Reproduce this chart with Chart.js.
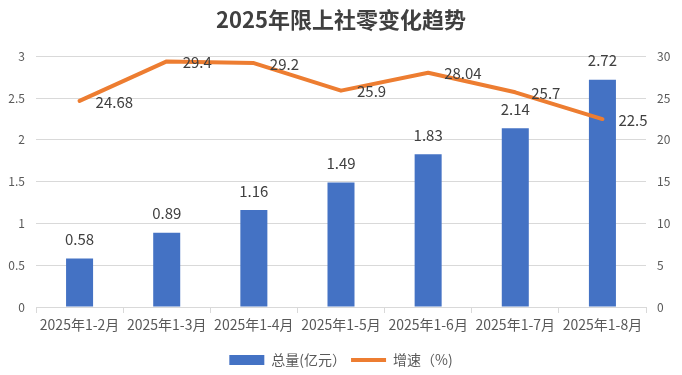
<!DOCTYPE html>
<html>
<head>
<meta charset="utf-8">
<script src="https://cdn.jsdelivr.net/npm/chart.js@4/dist/chart.umd.min.js"></script>
<style>
  html, body { margin: 0; padding: 0; background: #fff; }
  #wrap { width: 682px; height: 375px; position: relative; }
</style>
</head>
<body>
<div id="wrap"><canvas id="trendChart"></canvas></div>
<script>
// data
const months = ['2025年1-2月', '2025年1-3月', '2025年1-4月', '2025年1-5月', '2025年1-6月', '2025年1-7月', '2025年1-8月'];
const totalValues = [0.58, 0.89, 1.16, 1.49, 1.83, 2.14, 2.72];
const growthValues = [24.68, 29.4, 29.2, 25.9, 28.04, 25.7, 22.5];
const leftTicks = [0, 0.5, 1, 1.5, 2, 2.5, 3];
const rightTicks = [0, 5, 10, 15, 20, 25, 30];

const FONT = '"Noto Sans CJK SC", "Noto Sans", sans-serif';
const BLUE = '#4472C4';
const ORANGE = '#ED7D31';

// value labels: above the bars, to the right of the line points
const valueLabels = {
    id: 'valueLabels',
    afterDatasetsDraw(chart) {
        const ctx = chart.ctx;
        ctx.save();
        ctx.font = '15px ' + FONT;
        ctx.fillStyle = '#404040';
        ctx.textBaseline = 'middle';

        const bars = chart.getDatasetMeta(0).data;
        ctx.textAlign = 'center';
        bars.forEach((bar, i) => {
            ctx.fillText(String(totalValues[i]), bar.x, bar.y - 19);
        });

        const points = chart.getDatasetMeta(1).data;
        ctx.textAlign = 'left';
        points.forEach((pt, i) => {
            ctx.fillText(String(growthValues[i]), pt.x + 16, pt.y + 1);
        });
        ctx.restore();
    }
};

const ctx = document.getElementById('trendChart').getContext('2d');

new Chart(ctx, {
    data: {
        labels: months,
        datasets: [
            {
                type: 'bar',
                label: '总量(亿元）',
                data: totalValues,
                backgroundColor: BLUE,
                yAxisID: 'y',
                barPercentage: 1,
                categoryPercentage: 0.31,
                order: 1
            },
            {
                type: 'line',
                label: '增速（%)',
                data: growthValues,
                borderColor: ORANGE,
                backgroundColor: ORANGE,
                borderWidth: 4,
                borderCapStyle: 'round',
                borderJoinStyle: 'round',
                pointRadius: 0,
                pointHoverRadius: 0,
                tension: 0,
                yAxisID: 'y1',
                order: 0
            }
        ]
    },
    options: {
        responsive: true,
        maintainAspectRatio: false,
        animation: false,
        layout: { padding: { top: 0, right: 0, bottom: -2, left: 0 } },
        scales: {
            x: {
                afterFit: axis => { axis.height = 41; },
                grid: {
                    display: true,
                    drawOnChartArea: false,
                    drawTicks: true,
                    tickLength: 6,
                    offset: true,
                    color: '#d9d9d9'
                },
                border: { display: true, color: '#d9d9d9' },
                ticks: {
                    color: '#595959',
                    font: { family: FONT, size: 14 },
                    padding: 3,
                    maxRotation: 0,
                    autoSkip: false
                }
            },
            y: {
                position: 'left',
                min: 0,
                max: 3,
                afterBuildTicks: axis => { axis.ticks = leftTicks.map(v => ({ value: v })); },
                afterFit: axis => { axis.width = 36; },
                grid: { color: '#d9d9d9', drawTicks: false },
                border: { display: false },
                ticks: {
                    color: '#595959',
                    font: { family: FONT, size: 12 },
                    padding: 11,
                    callback: v => String(v)
                }
            },
            y1: {
                position: 'right',
                min: 0,
                max: 30,
                afterBuildTicks: axis => { axis.ticks = rightTicks.map(v => ({ value: v })); },
                afterFit: axis => { axis.width = 36; },
                grid: { display: false, drawTicks: false },
                border: { display: false },
                ticks: {
                    color: '#595959',
                    font: { family: FONT, size: 12 },
                    padding: 11,
                    callback: v => String(v)
                }
            }
        },
        plugins: {
            title: {
                display: true,
                text: '2025年限上社零变化趋势',
                color: '#404040',
                font: { family: FONT, size: 22, weight: 'bold' },
                padding: { top: 6, bottom: 24 }
            },
            legend: {
                position: 'bottom',
                labels: {
                    color: '#595959',
                    font: { family: FONT, size: 14 },
                    usePointStyle: true,
                    pointStyleWidth: 35,
                    boxHeight: 10,
                    padding: 5,
                    generateLabels: chart => chart.data.datasets.map((ds, i) => ({
                        text: ds.label,
                        datasetIndex: i,
                        pointStyle: ds.type === 'line' ? 'line' : 'rect',
                        fillStyle: ds.type === 'line' ? ORANGE : BLUE,
                        strokeStyle: ds.type === 'line' ? ORANGE : BLUE,
                        lineWidth: ds.type === 'line' ? 4 : 0,
                        fontColor: '#595959',
                        hidden: false
                    }))
                }
            },
            tooltip: { enabled: false }
        }
    },
    plugins: [valueLabels]
});
</script>
</body>
</html>
